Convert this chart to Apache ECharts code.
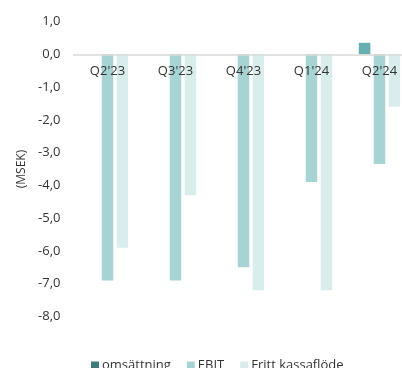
<!DOCTYPE html>
<html>
<head>
<meta charset="utf-8">
<script src="https://cdn.jsdelivr.net/npm/echarts@6/dist/echarts.min.js"></script>
<style>
  html, body { margin: 0; padding: 0; background: #fff; }
  #chart { width: 402px; height: 368px; }
</style>
</head>
<body>
<div id="chart"></div>
<script>
// Quarterly figures in MSEK
const quarters = ["Q2'23", "Q3'23", "Q4'23", "Q1'24", "Q2'24"];
const omsattning = [0, 0, 0, 0, 0.35];
const ebit = [-6.9, -6.9, -6.5, -3.9, -3.35];
const frittKassaflode = [-5.9, -4.3, -7.2, -7.2, -1.6];
const yTicks = { min: -8, max: 1, step: 1 };

const FONT = '"Open Sans", sans-serif';
const TEXT = '#333333';

// the plot runs a little past the right edge of the canvas
const GRID = { left: 73.5, top: 21.5, width: 340, height: 295 };
// lift the category axis from the grid bottom up to the zero line
const zeroOffset = -GRID.height * (0 - yTicks.min) / (yTicks.max - yTicks.min);

const chart = echarts.init(document.getElementById('chart'), null, { renderer: 'canvas' });

chart.setOption({
  animation: false,
  textStyle: { fontFamily: FONT },
  grid: Object.assign({ containLabel: false, outerBoundsMode: 'none' }, GRID),
  legend: {
    left: 86,
    top: 354,
    itemWidth: 8,
    itemHeight: 8,
    itemGap: 16,
    icon: 'rect',
    textStyle: { fontFamily: FONT, fontSize: 13, color: TEXT, padding: [0, 0, 0, -2] },
    data: [
      { name: 'omsättning', itemStyle: { color: '#3e7b7b' } },
      { name: 'EBIT', itemStyle: { color: '#a7d3d3' } },
      { name: 'Fritt kassaflöde', itemStyle: { color: '#daeded' } }
    ]
  },
  xAxis: {
    type: 'category',
    data: quarters,
    offset: zeroOffset,
    z: 10,
    axisLine: { onZero: false, lineStyle: { color: '#d9d9d9', width: 1.5 } },
    axisTick: { show: false },
    axisLabel: { fontFamily: FONT, fontSize: 13, color: TEXT, margin: 11 },
    splitLine: { show: false }
  },
  yAxis: {
    type: 'value',
    min: yTicks.min,
    max: yTicks.max,
    interval: yTicks.step,
    name: '(MSEK)',
    nameLocation: 'middle',
    nameGap: 44,
    nameTextStyle: { fontFamily: FONT, fontSize: 12, color: TEXT },
    axisLine: { show: false },
    axisTick: { show: false },
    splitLine: { show: false },
    axisLabel: {
      fontFamily: FONT, fontSize: 13, color: TEXT, margin: 13,
      formatter: v => v.toFixed(1).replace('.', ',')
    }
  },
  series: [
    {
      name: 'omsättning', type: 'bar', data: omsattning, z: 2,
      barWidth: 11.5, barGap: '30%',
      itemStyle: { color: '#66afb0' }
    },
    {
      name: 'EBIT', type: 'bar', data: ebit, z: 2,
      barWidth: 11.5, barGap: '30%',
      itemStyle: { color: '#a7d3d3' }
    },
    {
      name: 'Fritt kassaflöde', type: 'bar', data: frittKassaflode, z: 2,
      barWidth: 11.5, barGap: '30%',
      itemStyle: { color: '#daeded' }
    }
  ]
});
</script>
</body>
</html>
